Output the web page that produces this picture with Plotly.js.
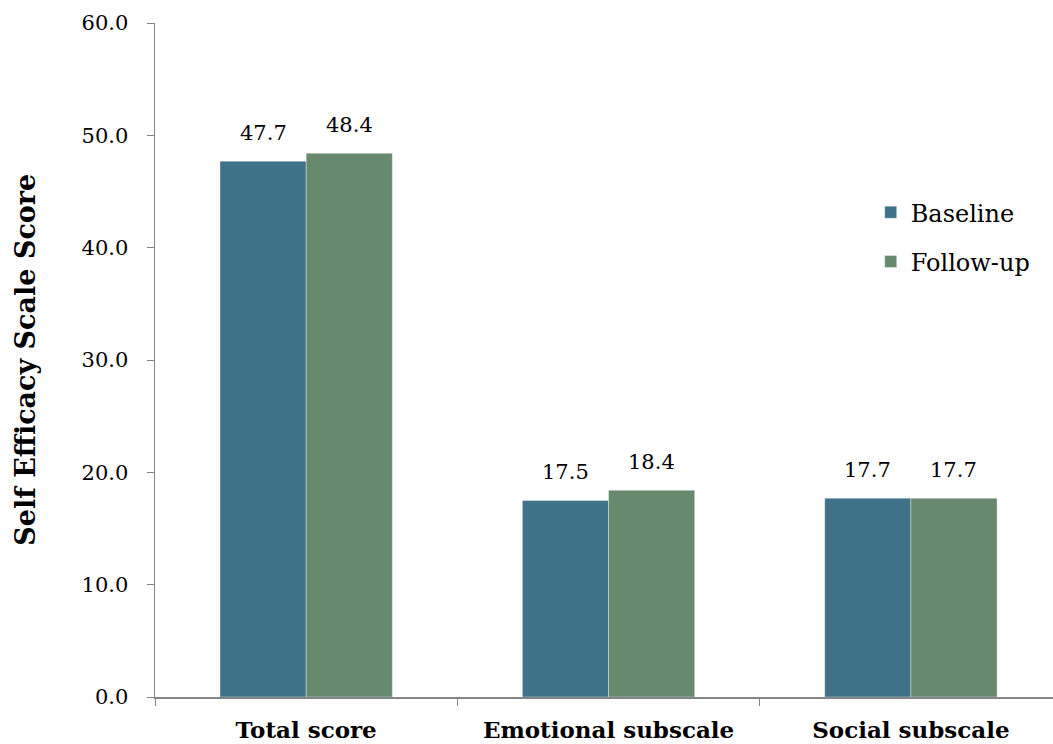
<!DOCTYPE html>
<html>
<head>
<meta charset="utf-8">
<script src="https://cdn.plot.ly/plotly-3.0.1.min.js"></script>
<style>
  html, body { margin: 0; padding: 0; background: #ffffff; overflow: hidden; }
  #chart { width: 1053px; height: 744px; }
</style>
</head>
<body>
<div id="chart"></div>
<script>
// Self Efficacy Scale scores at baseline and follow-up
const categories = ["Total score", "Emotional subscale", "Social subscale"];
const baseline = [47.7, 17.5, 17.7];
const followUp = [48.4, 18.4, 17.7];
const seriesNames = ["Baseline", "Follow-up"];
const yTicks = [0, 10, 20, 30, 40, 50, 60];

const serif = "DejaVu Serif, Liberation Serif, serif";
const halfBar = 43; // half of one bar's width in px, to centre labels over each bar

function barTrace(name, values, color, group) {
  return {
    type: "bar",
    name: name,
    legendgroup: group,
    x: categories,
    y: values,
    marker: { color: color, line: { color: "rgba(255,255,255,0.6)", width: 0.6 } },
    hoverinfo: "x+y"
  };
}

const data = [
  barTrace(seriesNames[0], baseline, "#3F7189", "a"),
  barTrace(seriesNames[1], followUp, "#678A6F", "b")
];

// value labels above each bar
const valueLabels = [];
[[baseline, -halfBar], [followUp, halfBar]].forEach(([vals, shift]) => {
  vals.forEach((v, i) => {
    valueLabels.push({
      x: categories[i], y: v, xref: "x", yref: "y",
      text: v.toFixed(1), showarrow: false,
      xanchor: "center", yanchor: "bottom",
      xshift: shift, yshift: 14,
      font: { family: serif, size: 21, color: "#000000" }
    });
  });
});

const yTitle = {
  text: "<b>Self Efficacy Scale Score</b>",
  xref: "paper", yref: "paper",
  x: -0.145, y: 0.5, xanchor: "center", yanchor: "middle",
  textangle: -90, showarrow: false,
  font: { family: serif, size: 27, color: "#000000" }
};

const layout = {
  width: 1053,
  height: 744,
  margin: { l: 155, r: 0, t: 23, b: 47 },
  paper_bgcolor: "#ffffff",
  plot_bgcolor: "#ffffff",
  barmode: "group",
  bargap: 0.43,
  bargroupgap: 0,
  showlegend: true,
  legend: {
    x: 0.797, y: 0.752, xanchor: "left", yanchor: "top",
    font: { family: serif, size: 24, color: "#000000" },
    tracegroupgap: 15,
    traceorder: "grouped",
    bgcolor: "rgba(0,0,0,0)"
  },
  annotations: valueLabels.concat([yTitle]),
  xaxis: {
    type: "category",
    range: [-0.5, 2.47],
    tickson: "boundaries",
    ticks: "outside",
    ticklen: 7,
    tickcolor: "#868686",
    showline: true,
    linecolor: "#868686",
    linewidth: 1.5,
    showgrid: false,
    zeroline: false,
    tickfont: { family: serif, size: 23, color: "#000000", weight: "bold" },
    ticklabelstandoff: 12
  },
  yaxis: {
    range: [0, 60],
    tickvals: yTicks,
    ticktext: yTicks.map(v => v.toFixed(1)),
    ticks: "outside",
    ticklen: 7,
    tickcolor: "#868686",
    showline: true,
    linecolor: "#868686",
    linewidth: 1.5,
    showgrid: false,
    zeroline: false,
    tickfont: { family: serif, size: 21, color: "#000000" },
    ticklabelstandoff: 14
  }
};

Plotly.newPlot("chart", data, layout, { displayModeBar: false, staticPlot: true });
</script>
</body>
</html>
